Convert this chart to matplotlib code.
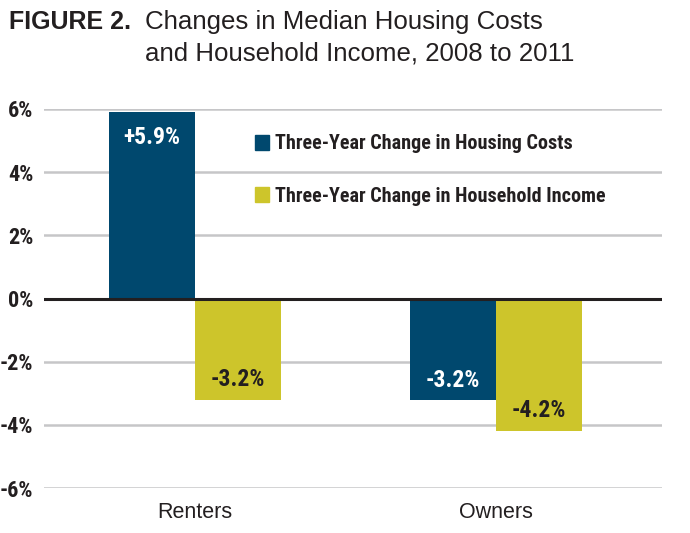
import matplotlib
matplotlib.use("Agg")
import matplotlib.pyplot as plt
from matplotlib.patches import Patch
import numpy as np

groups = ["Renters", "Owners"]
housing_costs = [5.9, -3.2]
household_income = [-3.2, -4.2]
series_names = ["Three-Year Change in Housing Costs", "Three-Year Change in Household Income"]
yticks = [-6, -4, -2, 0, 2, 4, 6]

blue = "#00486e"
yellow = "#cdc52b"
dark = "#231f20"

cond = ["Roboto Condensed", "Liberation Sans", "DejaVu Sans"]
plt.rcParams["font.family"] = ["Liberation Sans", "DejaVu Sans"]

fig = plt.figure(figsize=(6.9, 5.33), dpi=100)
ax = fig.add_axes([0.0638, 0.0844, 0.8952, 0.7111])

x = np.arange(len(groups))
w = 0.286
ax.bar(x - w / 2, housing_costs, w, color=blue, zorder=3)
ax.bar(x + w / 2, household_income, w, color=yellow, zorder=3)

ax.set_ylim(-6, 6)
ax.set_xlim(-0.502, 1.551)
ax.set_yticks(yticks)
ax.set_yticklabels([f"{t}%" for t in yticks], fontfamily=cond, fontsize=16,
                   fontweight="bold", color=dark)
ax.set_xticks(x)
ax.set_xticklabels(groups, fontsize=15.5, color=dark)
ax.tick_params(length=0)
ax.tick_params(axis="y", pad=7.5)
ax.tick_params(axis="x", pad=10)
for s in ax.spines.values():
    s.set_visible(False)
ax.grid(axis="y", color="#c6c6c8", linewidth=1.8, zorder=0)
ax.axhline(0, color="#231f20", linewidth=2.2, zorder=4)

# value labels inside bars
def lab(v):
    return f"+{v}%" if v > 0 else f"{v}%"

for i, v in enumerate(housing_costs):
    y = v - 0.8 if v > 0 else v + 0.6
    ax.text(x[i] - w / 2, y, lab(v), ha="center", va="center", color="white",
            fontsize=17, fontweight="bold", fontfamily=cond, zorder=5)
for i, v in enumerate(household_income):
    ax.text(x[i] + w / 2, v + 0.65, lab(v), ha="center", va="center", color=dark,
            fontsize=17, fontweight="bold", fontfamily=cond, zorder=5)

handles = [Patch(color=blue), Patch(color=yellow)]
leg = ax.legend(handles, series_names, loc="upper left", bbox_to_anchor=(0.3286, 0.954),
                frameon=False, handlelength=0.7, handleheight=0.75, handletextpad=0.3,
                labelspacing=1.65, borderaxespad=0,
                prop={"family": cond, "weight": "bold", "size": 14.5})
for t in leg.get_texts():
    t.set_color(dark)

fig.text(0.013, 0.945, "FIGURE 2.", fontsize=18, fontweight="bold", color=dark, va="baseline")
fig.text(0.21, 0.945, "Changes in Median Housing Costs", fontsize=18.6, color=dark, va="baseline")
fig.text(0.21, 0.8874, "and Household Income, 2008 to 2011", fontsize=18.6, color=dark, va="baseline")

fig.savefig("out.png", dpi=100)
